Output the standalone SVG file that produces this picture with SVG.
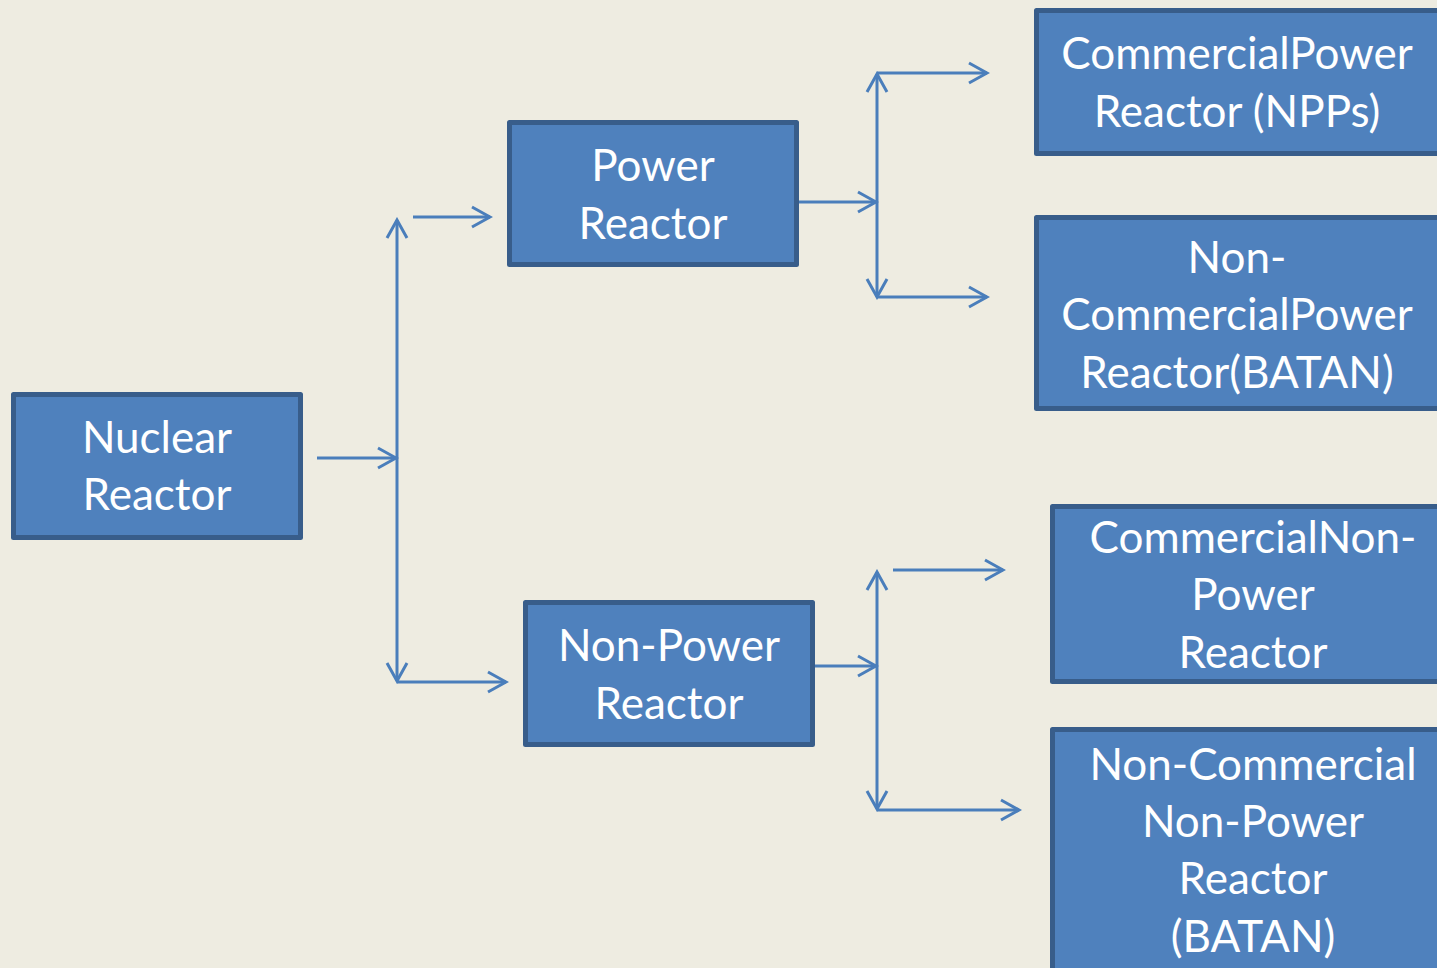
<svg xmlns="http://www.w3.org/2000/svg" width="1437" height="968" viewBox="0 0 1437 968">
<style>
.box{fill:#4F81BD;stroke:#385D8A;stroke-width:5;stroke-linejoin:round}
.t{fill:#FFFFFF;font-family:Lato,"Open Sans","Liberation Sans",sans-serif;font-size:44px;text-anchor:middle}
.c{fill:none;stroke:#4A7EBB;stroke-width:3}
</style>
<defs>
<marker id="ah" markerUnits="userSpaceOnUse" markerWidth="24" markerHeight="24" viewBox="-20 -12 22 24" refX="0" refY="0" orient="auto-start-reverse">
<path d="M-18,-10 L0,0 L-18,10" fill="none" stroke="#4A7EBB" stroke-width="3"/>
</marker>
</defs>
<rect width="1437" height="968" fill="#EEECE1"/>
<g id="connectors">
<line class="c" x1="317" y1="458" x2="396" y2="458" marker-end="url(#ah)"/>
<line class="c" x1="397" y1="220" x2="397" y2="681" marker-start="url(#ah)" marker-end="url(#ah)"/>
<line class="c" x1="413" y1="217" x2="490" y2="217" marker-end="url(#ah)"/>
<line class="c" x1="397" y1="682" x2="506" y2="682" marker-end="url(#ah)"/>
<line class="c" x1="799" y1="202" x2="876" y2="202" marker-end="url(#ah)"/>
<line class="c" x1="877" y1="74" x2="877" y2="297" marker-start="url(#ah)" marker-end="url(#ah)"/>
<line class="c" x1="877" y1="73" x2="987" y2="73" marker-end="url(#ah)"/>
<line class="c" x1="877" y1="297" x2="987" y2="297" marker-end="url(#ah)"/>
<line class="c" x1="815" y1="666" x2="876" y2="666" marker-end="url(#ah)"/>
<line class="c" x1="877" y1="572" x2="877" y2="809" marker-start="url(#ah)" marker-end="url(#ah)"/>
<line class="c" x1="893" y1="570" x2="1003" y2="570" marker-end="url(#ah)"/>
<line class="c" x1="877" y1="810" x2="1019" y2="810" marker-end="url(#ah)"/>
</g>
<g id="nuclear-reactor">
<rect class="box" x="13.5" y="394.5" width="287" height="143"/>
<text class="t" x="157" y="453">Nuclear</text>
<text class="t" x="157" y="510">Reactor</text>
</g>
<g id="power-reactor">
<rect class="box" x="509.5" y="122.5" width="287" height="142"/>
<text class="t" x="653" y="181">Power</text>
<text class="t" x="653" y="239">Reactor</text>
</g>
<g id="non-power-reactor">
<rect class="box" x="525.5" y="602.5" width="287" height="142"/>
<text class="t" x="669" y="661">Non-Power</text>
<text class="t" x="669" y="719">Reactor</text>
</g>
<g id="commercial-power-reactor">
<rect class="box" x="1036.5" y="10.5" width="430" height="143"/>
<text class="t" x="1237" y="69">CommercialPower</text>
<text class="t" x="1237" y="127">Reactor (NPPs)</text>
</g>
<g id="non-commercial-power-reactor">
<rect class="box" x="1036.5" y="217.5" width="430" height="191"/>
<text class="t" x="1237" y="273">Non-</text>
<text class="t" x="1237" y="330">CommercialPower</text>
<text class="t" x="1237" y="388">Reactor(BATAN)</text>
</g>
<g id="commercial-non-power-reactor">
<rect class="box" x="1052.5" y="506.5" width="430" height="175"/>
<text class="t" x="1253" y="553">CommercialNon-</text>
<text class="t" x="1253" y="610">Power</text>
<text class="t" x="1253" y="668">Reactor</text>
</g>
<g id="non-commercial-non-power-reactor">
<rect class="box" x="1052.5" y="729.5" width="430" height="260"/>
<text class="t" x="1253" y="780">Non-Commercial</text>
<text class="t" x="1253" y="837">Non-Power</text>
<text class="t" x="1253" y="894">Reactor</text>
<text class="t" x="1253" y="952">(BATAN)</text>
</g>
</svg>
